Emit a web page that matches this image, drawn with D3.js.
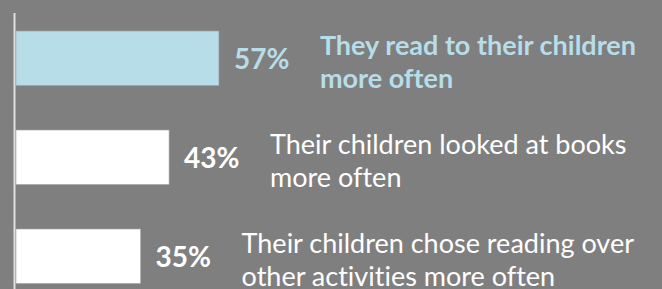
<!DOCTYPE html>
<html><head><meta charset="utf-8">
<script src="https://cdn.jsdelivr.net/npm/d3@7"></script>
<style>html,body{margin:0;padding:0;background:#7f7f7f;overflow:hidden} text{font-variant-ligatures:none}</style>
</head><body>
<svg id="c" width="662" height="289"></svg>
<script>
const categories = ["read", "looked", "chose"];
const values = [57, 43, 35];
const labelLines = [
  ["They read to their children", "more often"],
  ["Their children looked at books", "more often"],
  ["Their children chose reading over", "other activities more often"]
];
const highlight = [true, false, false];

const W = 662, H = 289;
const svg = d3.select("#c");
svg.append("rect").attr("width", W).attr("height", H).attr("fill", "#7f7f7f");

const x = d3.scaleLinear().domain([0, 100]).range([16, 372]);
const y = d3.scaleBand().domain(categories).range([-13.5, 328]).padding(0.45);

const FONT = "Lato, 'Open Sans', sans-serif";
const blue = "#b7dde8";

const g = svg.selectAll("g.row").data(categories).join("g").attr("class", "row");

g.append("rect")
  .attr("x", x(0))
  .attr("y", d => y(d))
  .attr("width", (d, i) => x(values[i]) - x(0))
  .attr("height", y.bandwidth())
  .attr("fill", (d, i) => highlight[i] ? blue : "#ffffff")
  .attr("stroke", "#a6a6a6").attr("stroke-width", 0.6);

g.append("text")
  .attr("x", (d, i) => x(values[i]) + 15)
  .attr("y", d => y(d) + y.bandwidth() / 2 + 11)
  .attr("font-family", FONT).attr("font-weight", 700).attr("font-size", 28)
  .attr("fill", (d, i) => highlight[i] ? blue : "#ffffff")
  .text((d, i) => values[i] + "%");

g.each(function(d, i) {
  const t = d3.select(this).append("text")
    .attr("font-family", FONT)
    .attr("font-weight", highlight[i] ? 700 : 400)
    .attr("font-size", 27)
    .attr("fill", highlight[i] ? blue : "#ffffff");
  labelLines[i].forEach((line, j) => {
    t.append("tspan")
      .attr("x", x(values[i]) + 101)
      .attr("y", y(d) + y.bandwidth() / 2 - 3 + j * 33)
      .text(line);
  });
});

// axis line
svg.append("line")
  .attr("x1", 14.5).attr("x2", 14.5)
  .attr("y1", 13).attr("y2", H)
  .attr("stroke", "#e0e0e0").attr("stroke-width", 2);
</script>
</body></html>
